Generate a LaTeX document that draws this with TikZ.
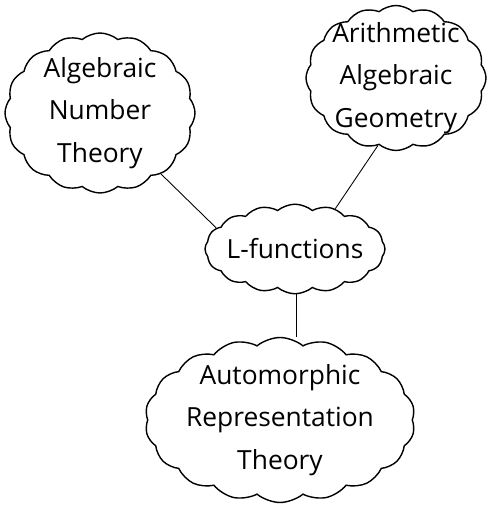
\documentclass[tikz,border=0pt]{standalone}
\usepackage{fontspec}
\setmainfont{Open Sans}
\usetikzlibrary{shapes.symbols,positioning}
\tikzset{
    fieldcloud/.style={cloud, draw, line width=0.8pt, cloud puffs=16, cloud puff arc=80,
        aspect=1.3, align=center, font=\fontsize{15}{24}\selectfont, inner sep=-12pt},
    link/.style={line width=0.5pt}
}

\begin{document}
\begin{tikzpicture}
    \useasboundingbox (0,0) rectangle (9.9,10.16);

    % The four fields
    \node[fieldcloud, minimum width=3.8cm, minimum height=3.2cm] (ant) at (2.0,7.9)
        {Algebraic\\Number\\Theory};
    \node[fieldcloud, minimum width=3.6cm, minimum height=2.9cm] (aag) at (7.92,8.6)
        {Arithmetic\\Algebraic\\Geometry};
    \node[fieldcloud, minimum width=3.6cm, minimum height=1.75cm, aspect=2.2, inner sep=-4pt] (lfun) at (5.9,5.18)
        {L-functions};
    \node[fieldcloud, minimum width=5.4cm, minimum height=3.3cm, aspect=1.8, cloud puffs=18] (art) at (5.6,1.76)
        {Automorphic\\Representation\\Theory};

    % Links to L-functions
    \draw[link] (ant.-45) -- (lfun.165);
    \draw[link] (aag.-105) -- (lfun.45);
    \draw[link] (lfun.-88) -- (lfun.-88 |- art.north);

\end{tikzpicture}
\end{document}
